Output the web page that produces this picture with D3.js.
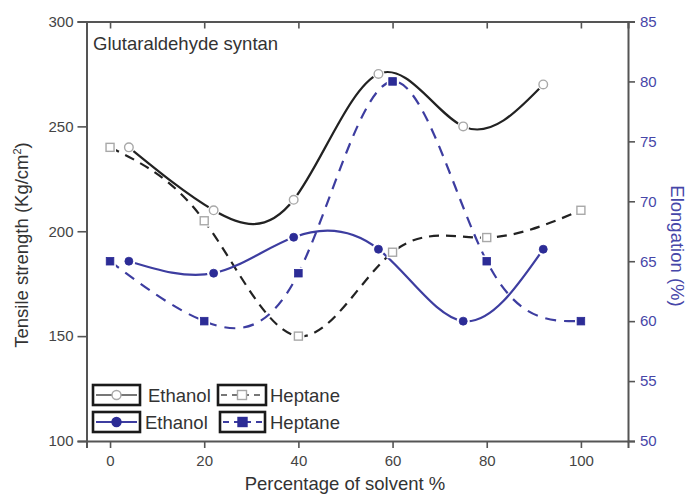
<!DOCTYPE html>
<html>
<head>
<meta charset="utf-8">
<script src="https://cdn.jsdelivr.net/npm/d3@7"></script>
<style>
  body { margin: 0; background: #fff; }
  svg { display: block; }
  text { font-family: "Liberation Sans", Arial, sans-serif; }
</style>
</head>
<body>
<svg id="chart" width="688" height="496"></svg>
<script>
// Solvent percentage for each measured sample
const ethanolX = [4, 22, 39, 57, 75, 92];
const heptaneX = [0, 20, 40, 60, 80, 100];

// Tensile strength (Kg/cm²), left axis
const tensileEthanol = [240, 210, 215, 275, 250, 270];
const tensileHeptane = [240, 205, 150, 190, 197, 210];

// Elongation (%), right axis
const elongEthanol = [65, 64, 67, 66, 60, 66];
const elongHeptane = [65, 60, 64, 80, 65, 60];

// Axis ticks
const xTicks = [0, 20, 40, 60, 80, 100];
const leftTicks = [100, 150, 200, 250, 300];
const rightTicks = [50, 55, 60, 65, 70, 75, 80, 85];

const svg = d3.select("#chart");
const frame = { left: 86.5, right: 628, top: 21.5, bottom: 441 };

const x = d3.scaleLinear().domain([-5, 110]).range([frame.left, frame.right]);
const yL = d3.scaleLinear().domain([100, 300]).range([frame.bottom, frame.top]);
const yR = d3.scaleLinear().domain([50, 85]).range([frame.bottom, frame.top]);

const BLACK = "#222";
const BLUE = "#3d3da0";
const BLUE_MARK = "#2c2c96";
const AXIS = "#555";
const OPEN = "#a8a8a8";

// ---- axes ----
const axisStyle = g => {
  g.select(".domain").attr("stroke", AXIS).attr("stroke-width", 2);
  g.selectAll(".tick line").attr("stroke", AXIS).attr("stroke-width", 1.6);
  g.selectAll(".tick text").attr("font-size", 15).attr("fill", "#444");
};

svg.append("g")
  .attr("transform", `translate(0,${frame.bottom})`)
  .call(d3.axisBottom(x).tickValues(xTicks).tickSizeOuter(0).tickSize(7).tickPadding(7))
  .call(axisStyle);

svg.append("g")
  .attr("transform", `translate(0,${frame.top})`)
  .call(d3.axisBottom(x).tickValues(xTicks).tickSizeOuter(0).tickSize(7).tickFormat(""))
  .call(axisStyle);

svg.append("g")
  .attr("transform", `translate(${frame.left},0)`)
  .call(d3.axisLeft(yL).tickValues(leftTicks).tickSizeOuter(0).tickSize(9).tickPadding(4))
  .call(axisStyle);

const right = svg.append("g")
  .attr("transform", `translate(${frame.right},0)`)
  .call(d3.axisRight(yR).tickValues(rightTicks).tickSizeOuter(0).tickSize(7).tickPadding(5))
  .call(axisStyle);
right.selectAll(".tick text").attr("fill", "#4646a8");

// ---- axis titles ----
svg.append("text")
  .attr("x", 93).attr("y", 50)
  .attr("font-size", 18.5).attr("fill", "#333")
  .text("Glutaraldehyde syntan");

svg.append("text")
  .attr("x", 345).attr("y", 490)
  .attr("text-anchor", "middle")
  .attr("font-size", 18.5).attr("fill", "#333")
  .text("Percentage of solvent %");

const lt = svg.append("text")
  .attr("transform", "translate(28,245) rotate(-90)")
  .attr("text-anchor", "middle")
  .attr("font-size", 18.5).attr("fill", "#333");
lt.append("tspan").text("Tensile strength (Kg/cm");
lt.append("tspan").attr("font-size", 11).attr("dy", -7).text("2");
lt.append("tspan").attr("dy", 7).text(")");

svg.append("text")
  .attr("transform", "translate(671,246) rotate(90)")
  .attr("text-anchor", "middle")
  .attr("font-size", 18.5).attr("fill", "#4646a8")
  .text("Elongation (%)");

// ---- series ----
const series = [
  { xs: ethanolX, ys: tensileEthanol, y: yL, color: BLACK, dash: null, mark: "circle", open: true },
  { xs: heptaneX, ys: tensileHeptane, y: yL, color: BLACK, dash: "10,7", mark: "square", open: true },
  { xs: ethanolX, ys: elongEthanol, y: yR, color: BLUE, dash: null, mark: "circle", open: false },
  { xs: heptaneX, ys: elongHeptane, y: yR, color: BLUE, dash: "11,8", mark: "square", open: false }
];

series.forEach(s => {
  const pts = s.xs.map((v, i) => [v, s.ys[i]]);
  const line = d3.line().x(d => x(d[0])).y(d => s.y(d[1])).curve(d3.curveNatural);
  svg.append("path")
    .attr("d", line(pts))
    .attr("fill", "none")
    .attr("stroke", s.color)
    .attr("stroke-width", 2.2)
    .attr("stroke-dasharray", s.dash);
});

// markers, with a white gap around each symbol
series.forEach(s => {
  const pts = s.xs.map((v, i) => [v, s.ys[i]]);
  const g = svg.append("g");
  pts.forEach(d => {
    const cx = x(d[0]), cy = s.y(d[1]);
    if (s.mark === "circle") {
      g.append("circle").attr("cx", cx).attr("cy", cy).attr("r", s.open ? 6 : 6.5).attr("fill", "#fff");
      g.append("circle").attr("cx", cx).attr("cy", cy).attr("r", s.open ? 4.3 : 4)
        .attr("fill", s.open ? "#fff" : BLUE_MARK)
        .attr("stroke", s.open ? OPEN : BLUE_MARK).attr("stroke-width", s.open ? 1.4 : 0.8);
    } else {
      const h = s.open ? 4 : 3.8;
      g.append("rect").attr("x", cx - h - 2).attr("y", cy - h - 2).attr("width", 2 * h + 4).attr("height", 2 * h + 4).attr("fill", "#fff");
      g.append("rect").attr("x", cx - h).attr("y", cy - h).attr("width", 2 * h).attr("height", 2 * h)
        .attr("fill", s.open ? "#fff" : BLUE_MARK)
        .attr("stroke", s.open ? OPEN : BLUE_MARK).attr("stroke-width", s.open ? 1.4 : 0.8);
    }
  });
});

// ---- legend ----
const legendItems = [
  { bx: 93, by: 385, bw: 47, label: "Ethanol", tx: 148, ty: 402, color: "#777", dash: null, mark: "circle", open: true },
  { bx: 218, by: 385, bw: 48, label: "Heptane", tx: 270, ty: 402, color: "#777", dash: "6,5", mark: "square", open: true },
  { bx: 93, by: 412, bw: 47, label: "Ethanol", tx: 145, ty: 429, color: BLUE, dash: null, mark: "circle", open: false },
  { bx: 220, by: 412, bw: 45, label: "Heptane", tx: 270, ty: 429, color: BLUE, dash: "6,5", mark: "square", open: false }
];

const legend = svg.append("g");
legendItems.forEach(it => {
  const cy = it.by + 10, cx = it.bx + it.bw / 2;
  legend.append("rect")
    .attr("x", it.bx).attr("y", it.by).attr("width", it.bw).attr("height", 20)
    .attr("fill", "#fff").attr("stroke", "#1a1a1a").attr("stroke-width", 2.6);
  legend.append("line")
    .attr("x1", it.bx + 3).attr("x2", it.bx + it.bw - 3).attr("y1", cy).attr("y2", cy)
    .attr("stroke", it.color).attr("stroke-width", 1.8).attr("stroke-dasharray", it.dash);
  if (it.mark === "circle") {
    legend.append("circle").attr("cx", cx).attr("cy", cy).attr("r", 4.5)
      .attr("fill", it.open ? "#fff" : BLUE_MARK).attr("stroke", it.open ? OPEN : BLUE_MARK).attr("stroke-width", 1.4);
  } else {
    legend.append("rect").attr("x", cx - 4.5).attr("y", cy - 4.5).attr("width", 9).attr("height", 9)
      .attr("fill", it.open ? "#fff" : BLUE_MARK).attr("stroke", it.open ? OPEN : BLUE_MARK).attr("stroke-width", 1.4);
  }
  legend.append("text")
    .attr("x", it.tx).attr("y", it.ty)
    .attr("font-size", 18.5).attr("fill", "#333")
    .text(it.label);
});
</script>
</body>
</html>
